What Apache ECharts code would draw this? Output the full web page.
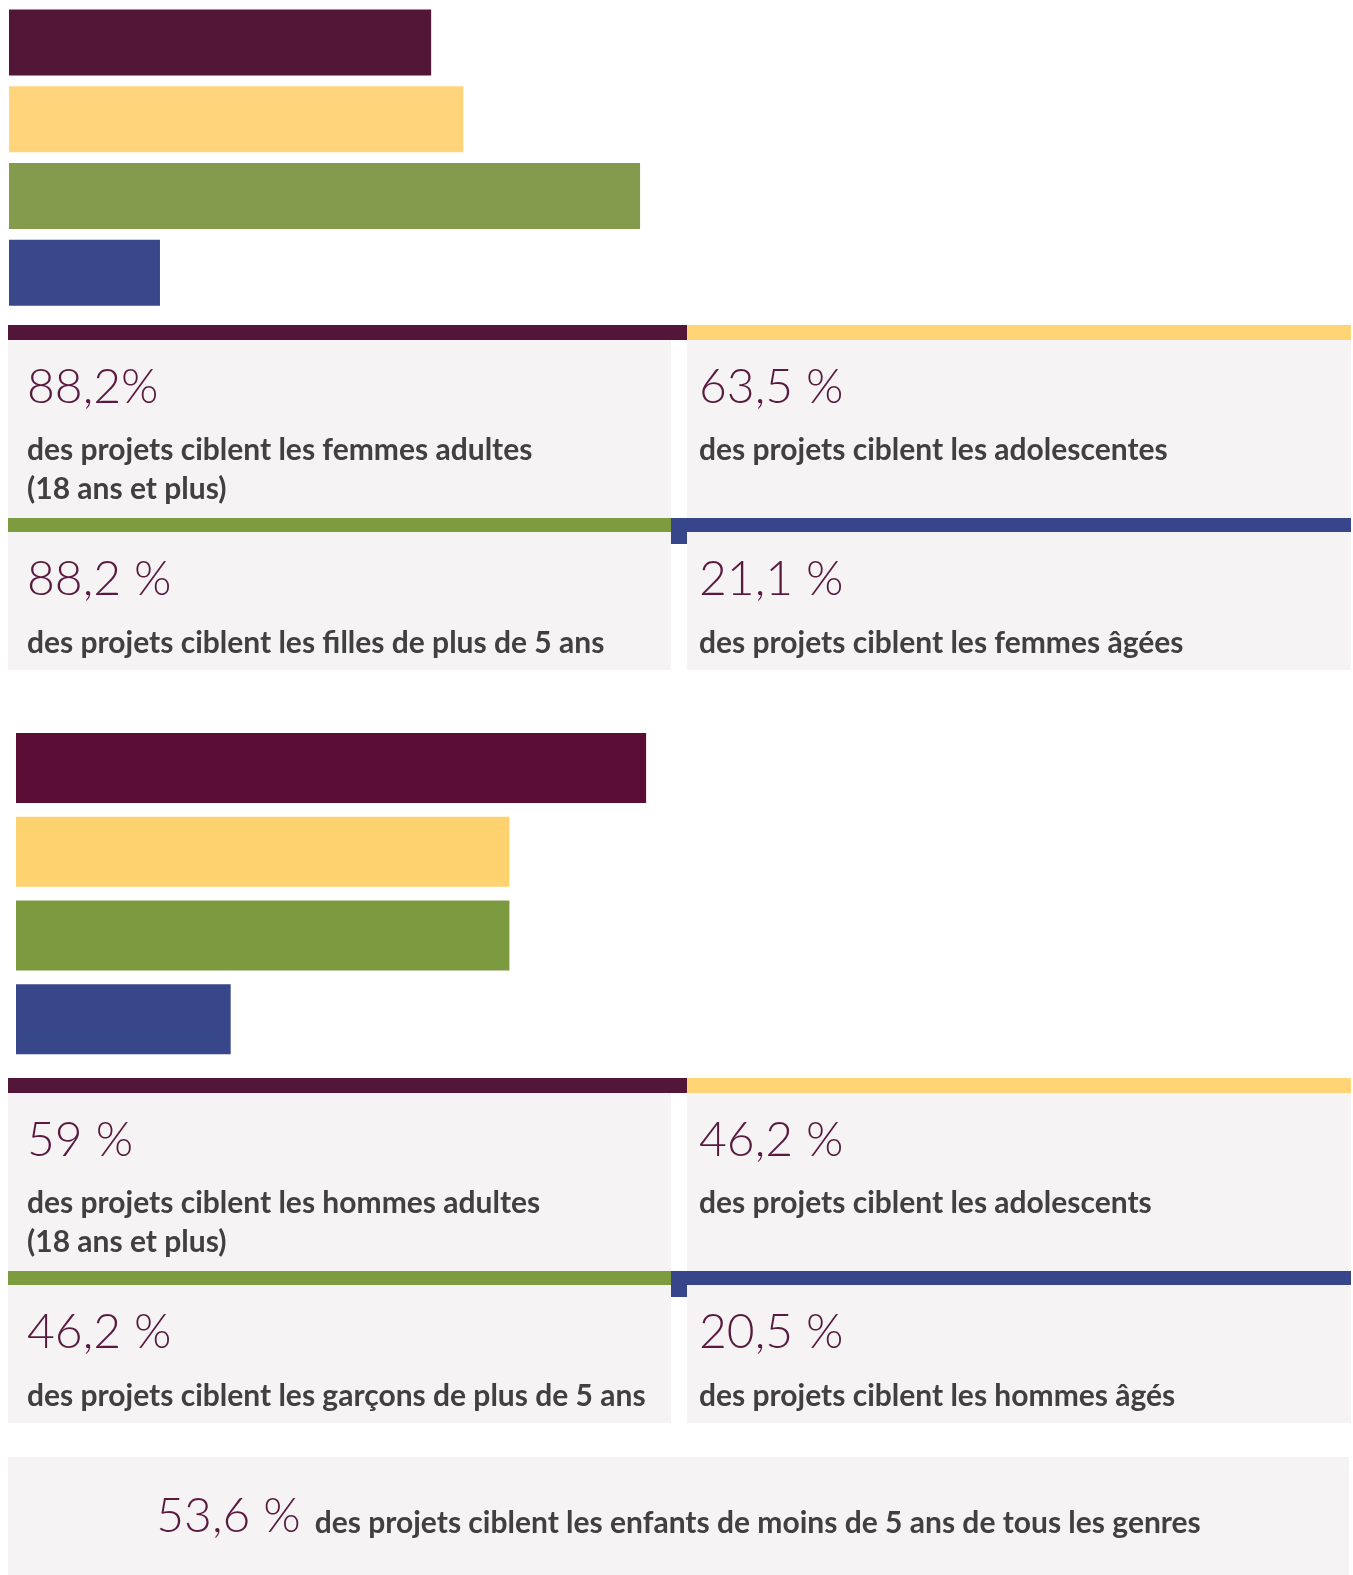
<!DOCTYPE html>
<html><head><meta charset="utf-8">
<script src="https://cdn.jsdelivr.net/npm/echarts@6/dist/echarts.min.js"></script>
<style>html,body{margin:0;padding:0;background:#fff}#c{width:1353px;height:1575px}</style>
</head><body><div id="c"></div><script>
// ---- data ----
const categories = ['Adultes (18 ans et plus)', 'Adolescent·e·s', 'Plus de 5 ans', 'Âgé·e·s'];
const femmesBarValues = [59, 63.5, 88.2, 21.1];
const hommesBarValues = [59, 46.2, 46.2, 20.1];
const femmesLabels = ['88,2%', '63,5 %', '88,2 %', '21,1 %'];
const femmesTexts = [
  'des projets ciblent les femmes adultes\n(18 ans et plus)',
  'des projets ciblent les adolescentes',
  'des projets ciblent les filles de plus de 5 ans',
  'des projets ciblent les femmes âgées'
];
const hommesLabels = ['59 %', '46,2 %', '46,2 %', '20,5 %'];
const hommesTexts = [
  'des projets ciblent les hommes adultes\n(18 ans et plus)',
  'des projets ciblent les adolescents',
  'des projets ciblent les garçons de plus de 5 ans',
  'des projets ciblent les hommes âgés'
];
const enfantsLabel = '53,6 %';
const enfantsText = 'des projets ciblent les enfants de moins de 5 ans de tous les genres';

// ---- styles ----
const topBarColors = ['#521737', '#FFD47A', '#849A4C', '#38488A'];
const botBarColors = ['#5B0D36', '#FED26F', '#7C9B41', '#38468A'];
const stripe = {purple:'#521738', yellow:'#FFD475', green:'#7C9C3F', blue:'#37468A'};
const panelGray = '#F5F3F4';
const numColor = '#5A1A40';
const descColor = '#404040';
const FONT = 'Lato';
const NUM_FS = 48, DESC_FS = 30, DESC_LH = 39;

function txt(x, baseline, s, fs, weight, color, lh) {
  lh = lh || Math.round(fs * 1.2);
  return {type:'text', x:x, y: baseline - lh/2 - 0.387*fs, silent:true,
    style:{text:s, fontFamily:FONT, fontSize:fs, fontWeight:weight, fill:color,
      lineHeight:lh, align:'left', textAlign:'left', verticalAlign:'top', textVerticalAlign:'top'}};
}
function rect(x, y, w, h, c) {
  return {type:'rect', silent:true, shape:{x:x, y:y, width:w, height:h}, style:{fill:c}};
}

function group(o, labels, texts) {
  const els = [];
  els.push(rect(8, 340+o, 663, 178, panelGray));
  els.push(rect(687, 340+o, 664, 178, panelGray));
  els.push(rect(8, 532+o, 663, 138, panelGray));
  els.push(rect(687, 532+o, 664, 138, panelGray));
  els.push(rect(8, 325+o, 679, 15, stripe.purple));
  els.push(rect(687, 325+o, 664, 15, stripe.yellow));
  els.push(rect(8, 518+o, 663, 14, stripe.green));
  els.push(rect(671, 518+o, 680, 14, stripe.blue));
  els.push(rect(671, 518+o, 16, 26, stripe.blue));
  const xs = [27, 699, 27, 699];
  const nb = [406, 406, 598, 598];
  const db = [461.5, 461.5, 654.5, 654.5];
  for (let i = 0; i < 4; i++) {
    els.push(txt(xs[i], nb[i]+o, labels[i], NUM_FS, 300, numColor));
    els.push(txt(xs[i], db[i]+o, texts[i], DESC_FS, 'bold', descColor, DESC_LH));
  }
  return els;
}

const chart = echarts.init(document.getElementById('c'), null, {renderer:'canvas'});

// final box, centred number + text
const mc = document.createElement('canvas').getContext('2d');
mc.font = '300 ' + NUM_FS + 'px ' + FONT;
const wNum = mc.measureText(enfantsLabel).width;
mc.font = 'bold ' + DESC_FS + 'px ' + FONT;
const wDesc = mc.measureText(enfantsText).width;
const gap = 14;
const boxL = 8, boxW = 1341;
const startX = boxL + (boxW - (wNum + gap + wDesc)) / 2;

const graphics = [].concat(
  group(0, femmesLabels, femmesTexts),
  group(753, hommesLabels, hommesTexts),
  [rect(boxL, 1457, boxW, 118, panelGray),
   txt(startX, 1535, enfantsLabel, NUM_FS, 300, numColor),
   txt(startX + wNum + gap, 1535, enfantsText, DESC_FS, 'bold', descColor)]
);

const hiddenX = {type:'value', min:0, max:100, show:false};
const hiddenY = {type:'category', data:categories, inverse:true, show:false};

chart.setOption({
  animation:false,
  backgroundColor:'#ffffff',
  grid:[
    {left:9, top:4, width:715.5, height:307},
    {left:16, top:726, width:1068, height:335}
  ],
  xAxis:[Object.assign({gridIndex:0}, hiddenX), Object.assign({gridIndex:1}, hiddenX)],
  yAxis:[Object.assign({gridIndex:0}, hiddenY), Object.assign({gridIndex:1}, hiddenY)],
  series:[
    {type:'bar', xAxisIndex:0, yAxisIndex:0, barWidth:66, silent:true,
     data: femmesBarValues.map((v,i)=>({value:v, itemStyle:{color:topBarColors[i]}}))},
    {type:'bar', xAxisIndex:1, yAxisIndex:1, barWidth:70, silent:true,
     data: hommesBarValues.map((v,i)=>({value:v, itemStyle:{color:botBarColors[i]}}))}
  ],
  graphic:{elements:graphics}
});
</script></body></html>
